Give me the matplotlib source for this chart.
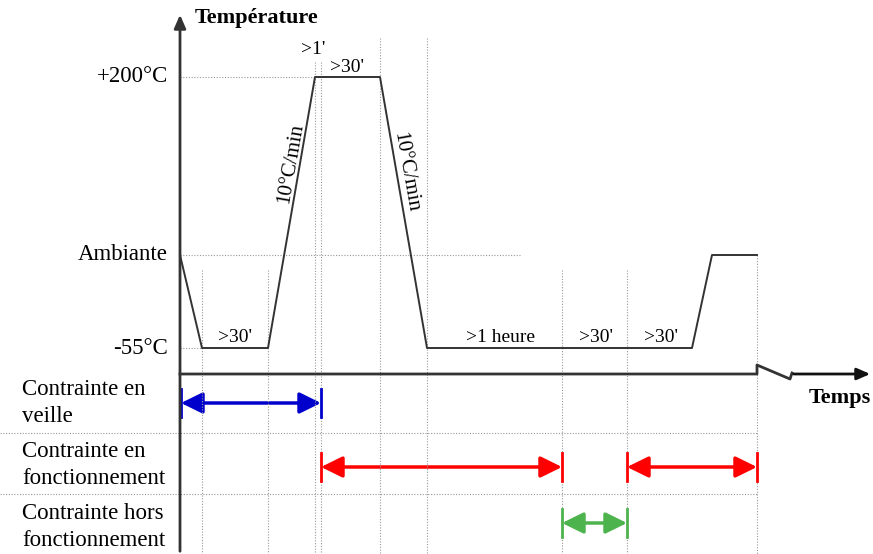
import matplotlib.pyplot as plt
from matplotlib.patches import FancyArrowPatch

plt.rcParams['font.family'] = ['Liberation Serif', 'DejaVu Serif']

# -----------------------------
# Data (schematic positions of the test profile)
# -----------------------------
level_labels = ["+200°C", "Ambiante", "-55°C"]
level_pos = [77, 255, 348]
lvl = dict(zip(level_labels, level_pos))

# time breakpoints of the profile and the temperature reached at each one
time_pts = [180, 202, 268, 315, 380, 427, 692, 712, 757]
temp_pts = ["Ambiante", "-55°C", "-55°C", "+200°C", "+200°C",
            "-55°C", "-55°C", "Ambiante", "Ambiante"]

# vertical guides: (time, top)
v_guides = [(202, 270), (268, 270), (315, 62), (321, 62), (380, 38),
            (427, 38), (562, 270), (627, 270), (757, 255)]

# duration labels: (text, time, level)
durations = [(">30'", 235, 337), (">1'", 313, 50), (">30'", 347, 68),
             (">1 heure", 500, 337), (">30'", 596, 337), (">30'", 661, 337)]

# stress rows
row_labels = ["Contrainte en\nveille", "Contrainte en\nfonctionnement",
              "Contrainte hors\nfonctionnement"]
row_text_y = [403, 465, 527]
row_sep = [433, 494]
stress_spans = [(181, 321, 0, '#0000cc'),
                (321, 562, 1, '#ff0000'),
                (627, 757, 1, '#ff0000'),
                (562, 627, 2, '#4db34d')]
arrow_y = [403, 467, 523]

# -----------------------------
# Figure
# -----------------------------
fig = plt.figure(figsize=(8.73, 5.54), dpi=100)
ax = fig.add_axes([0, 0, 1, 1])
ax.set_xlim(0, 873)
ax.set_ylim(554, 0)
ax.axis('off')

guide = dict(color='#999999', lw=0.8, linestyle=(0, (1, 1.5)))

for x, top in v_guides:
    ax.plot([x, x], [top, 554], **guide)
ax.plot([180, 315], [lvl["+200°C"]] * 2, **guide)
ax.plot([180, 520], [lvl["Ambiante"]] * 2, **guide)
ax.plot([180, 202], [lvl["-55°C"]] * 2, **guide)
for y in row_sep:
    ax.plot([0, 757], [y, y], **guide)

# profile
ax.plot(time_pts, [lvl[t] for t in temp_pts], color='#333333', lw=1.4)

# axes
ax.annotate('', xy=(180, 12), xytext=(180, 554),
            arrowprops=dict(arrowstyle='-|>,head_length=0.8,head_width=0.35',
                            color='#333333', lw=2))
ax.plot([180, 757, 757, 790, 792], [374, 374, 365, 379, 373],
        color='#333333', lw=2)
ax.annotate('', xy=(873, 374), xytext=(791, 374),
            arrowprops=dict(arrowstyle='-|>,head_length=0.8,head_width=0.35',
                            color='#111111', lw=2))

ax.text(195, 18, "Température", fontsize=16, fontweight='bold', va='center')
ax.text(840, 398, "Temps", fontsize=16, fontweight='bold', ha='center', va='center')

for lab, y in zip(level_labels, level_pos):
    ax.text(168, y, lab, fontsize=16.5, ha='right', va='center')

for txt, x, y in durations:
    ax.text(x, y, txt, fontsize=14, ha='center', va='center')

ax.text(291, 163, "10°C/min", fontsize=15, rotation=80,
        ha='center', va='center', rotation_mode='anchor')
ax.text(406, 172, "10°C/min", fontsize=15, rotation=-80,
        ha='center', va='center', rotation_mode='anchor')

for lab, y in zip(row_labels, row_text_y):
    ax.text(22, y, lab, fontsize=16.5, ha='left', va='center', linespacing=1.32)

for x0, x1, r, c in stress_spans:
    y = arrow_y[r]
    ax.add_patch(FancyArrowPatch((x0, y), (x1, y),
                 arrowstyle='<|-|>,head_length=6.5,head_width=3.2',
                 color=c, lw=2.5, shrinkA=0, shrinkB=0, mutation_scale=2))
    ax.plot([x0, x0], [y - 14, y + 14], color=c, lw=2)
    ax.plot([x1, x1], [y - 14, y + 14], color=c, lw=2)

fig.savefig('out.png', dpi=100)
